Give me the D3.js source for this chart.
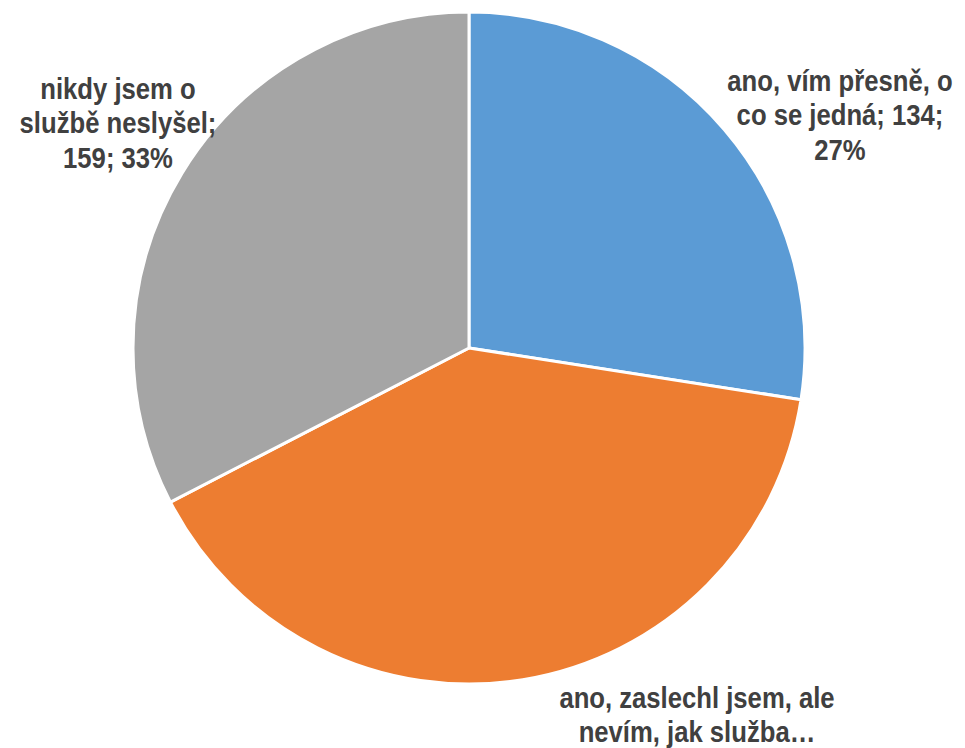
<!DOCTYPE html>
<html>
<head>
<meta charset="utf-8">
<script src="https://cdn.jsdelivr.net/npm/d3@7"></script>
<style>
  body { margin: 0; background: #fff; }
</style>
</head>
<body>
<div id="chart"></div>
<script>
let w = 965;
let h = 748;

// data
let categories = ["ano, vím přesně, o co se jedná", "ano, zaslechl jsem, ale nevím, jak služba…", "nikdy jsem o službě neslyšel"];
let values = [134, 195, 159];
let colors = ["#5B9BD5", "#ED7D31", "#A5A5A5"];
// label lines as shown in the chart
let labelLines = [
  ["ano, vím přesně, o", "co se jedná; 134;", "27%"],
  ["ano, zaslechl jsem, ale", "nevím, jak služba…"],
  ["nikdy jsem o", "službě neslyšel;", "159; 33%"]
];

let cx = 469, cy = 348, r = 336;

let viz = d3.select("#chart")
  .append("svg")
    .attr("width", w)
    .attr("height", h);

let pie = d3.pie().sort(null).value(d => d);
let arc = d3.arc().innerRadius(0).outerRadius(r);

let slices = viz.append("g")
  .attr("transform", "translate(" + cx + "," + cy + ")");

slices.selectAll("path")
  .data(pie(values))
  .join("path")
    .attr("d", arc)
    .attr("fill", (d, i) => colors[i])
    .attr("stroke", "#fff")
    .attr("stroke-width", 3)
    .attr("stroke-linejoin", "round");

// label anchors (centre of first line) per slice
let labelPos = [[840, 80], [697, 697], [118, 88]];
let lineH = 34.5;

let labels = viz.append("g")
  .attr("font-family", "'Liberation Sans', Arial, sans-serif")
  .attr("font-weight", "bold")
  .attr("font-size", 29)
  .attr("fill", "#404040")
  .attr("text-anchor", "middle");

// narrow look: squeeze the bold face horizontally
labelLines.forEach((lines, i) => {
  let t = labels.append("text")
    .attr("transform", "translate(" + labelPos[i][0] + "," + labelPos[i][1] + ") scale(0.885,1)")
    .attr("dominant-baseline", "central");
  lines.forEach((s, j) => {
    t.append("tspan")
      .attr("x", 0)
      .attr("dy", j === 0 ? 0 : lineH)
      .text(s);
  });
});
</script>
</body>
</html>
